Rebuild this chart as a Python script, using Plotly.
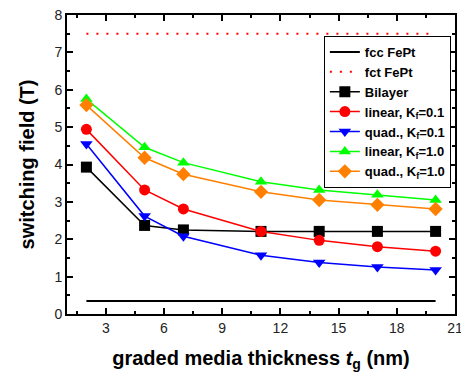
import plotly.graph_objects as go

thickness = [2, 5, 7, 11, 14, 17, 20]
fcc_x = [2, 20]
fcc_y = [0.35, 0.35]
fct_x = [2, 20]
fct_y = [7.5, 7.5]
bilayer = [3.93, 2.37, 2.25, 2.21, 2.21, 2.21, 2.21]
linear_01 = [4.94, 3.32, 2.81, 2.21, 1.97, 1.80, 1.68]
quad_01 = [4.55, 2.62, 2.08, 1.57, 1.38, 1.26, 1.18]
linear_10 = [5.75, 4.46, 4.05, 3.54, 3.32, 3.19, 3.05]
quad_10 = [5.59, 4.18, 3.74, 3.27, 3.05, 2.92, 2.81]

x_ticks = [3, 6, 9, 12, 15, 18, 21]
y_ticks = [0, 1, 2, 3, 4, 5, 6, 7, 8]

fig = go.Figure()
fig.add_trace(go.Scatter(x=fcc_x, y=fcc_y, mode="lines", name="fcc FePt",
                         line=dict(color="black", width=2)))
fig.add_trace(go.Scatter(x=fct_x, y=fct_y, mode="lines", name="fct FePt",
                         line=dict(color="red", width=2, dash="2px,8px")))
series = [
    ("Bilayer", bilayer, "black", "square"),
    ("linear, K<sub>f</sub>=0.1", linear_01, "#ff0000", "circle"),
    ("quad., K<sub>f</sub>=0.1", quad_01, "#0000ff", "triangle-down"),
    ("linear, K<sub>f</sub>=1.0", linear_10, "#00ff00", "triangle-up"),
    ("quad., K<sub>f</sub>=1.0", quad_10, "#ff8000", "diamond"),
]
for name, ys, col, sym in series:
    fig.add_trace(go.Scatter(x=thickness, y=ys, mode="lines+markers", name=name,
                             line=dict(color=col, width=1.5),
                             marker=dict(color=col, symbol=sym, size=11)))

axis_common = dict(showline=True, linecolor="black", linewidth=2, mirror="allticks",
                   ticks="inside", ticklen=6, tickwidth=1.5, tickcolor="black",
                   showgrid=False, zeroline=False, ticklabeloverflow="allow",
                   tickfont=dict(family="Liberation Sans, Arial", size=14, color="#222"))
fig.update_xaxes(range=[1, 21], tickvals=x_ticks,
                 minor=dict(ticks="inside", dtick=1.5, tick0=1.5, ticklen=3, tickwidth=1.5, tickcolor="black"),
                 title=dict(text="<b>graded media thickness <i>t</i><sub>g</sub> (nm)</b>",
                            font=dict(family="Liberation Sans, Arial", size=20, color="black"),
                            standoff=16),
                 **axis_common)
fig.update_yaxes(range=[0, 8], tickvals=y_ticks,
                 minor=dict(ticks="inside", dtick=0.5, ticklen=3, tickwidth=1.5, tickcolor="black"),
                 title=dict(text="<b>switching field (T)</b>",
                            font=dict(family="Liberation Sans, Arial", size=20, color="black"),
                            standoff=14),
                 **axis_common)
fig.update_layout(
    width=461, height=380,
    margin=dict(l=67, r=6, t=15, b=66, autoexpand=False),
    paper_bgcolor="white", plot_bgcolor="white",
    legend=dict(x=0.662, y=0.93, xanchor="left", yanchor="top",
                bordercolor="black", borderwidth=1, bgcolor="white",
                font=dict(family="Liberation Sans, Arial", size=13, color="black", weight="bold"),
                tracegroupgap=0, itemwidth=30),
    font=dict(family="Liberation Sans, Arial"),
)
fig.write_html("out.html", config={"displayModeBar": False},
               post_script="document.body.style.margin='0';document.body.style.overflow='hidden';")
